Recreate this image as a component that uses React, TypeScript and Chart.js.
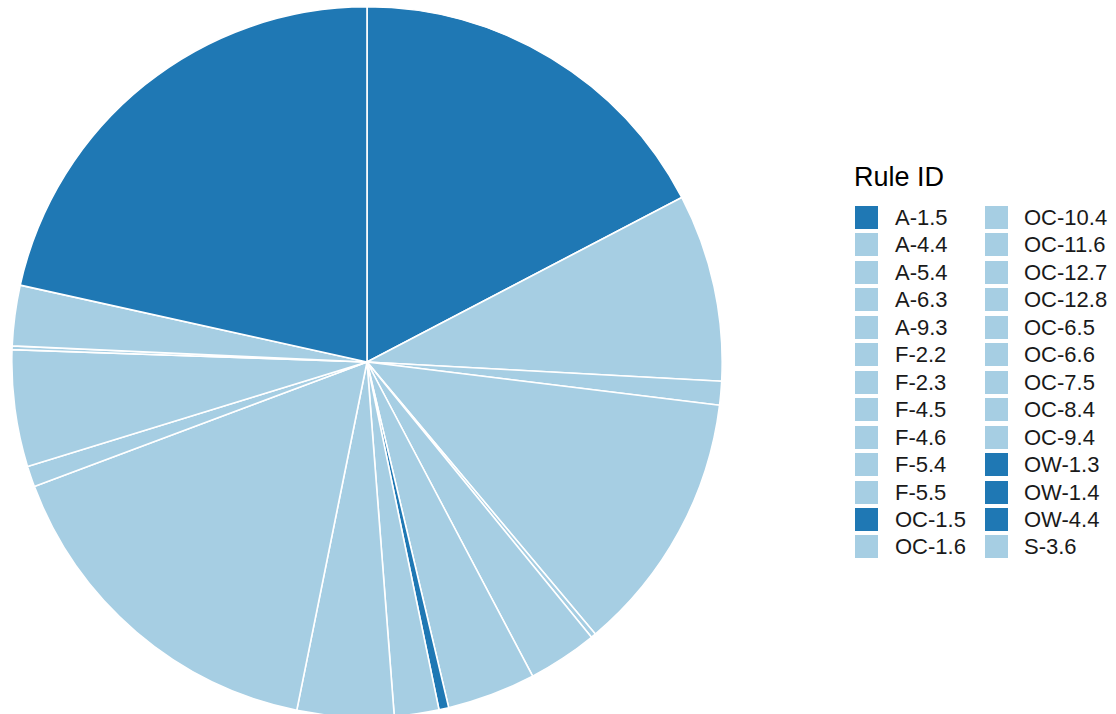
import React, { useEffect, useRef } from "react";
import { Chart, registerables } from "chart.js";

Chart.register(...registerables);

// Rule IDs in legend order (ggplot stacks them counter-clockwise from 12 o'clock)
const ruleIds = [
  "A-1.5", "A-4.4", "A-5.4", "A-6.3", "A-9.3", "F-2.2", "F-2.3", "F-4.5", "F-4.6",
  "F-5.4", "F-5.5", "OC-1.5", "OC-1.6", "OC-10.4", "OC-11.6", "OC-12.7", "OC-12.8",
  "OC-6.5", "OC-6.6", "OC-7.5", "OC-8.4", "OC-9.4", "OW-1.3", "OW-1.4", "OW-4.4", "S-3.6",
];
// Share of the pie (degrees)
const shares = [
  77.5, 9.9, 0.6, 19.1, 3.4, 58.1, 15.8, 7.3, 0, 0, 0, 1.6, 14.5, 11.4, 0.8, 43.0, 3.9,
  30.7, 0, 0, 0, 0, 62.4, 0, 0, 0,
];
// Rule IDs drawn in the dark colour
const darkIds = ["A-1.5", "OC-1.5", "OW-1.3", "OW-1.4", "OW-4.4"];
const DARK = "#1F78B4";
const LIGHT = "#A6CEE3";
const legendTitle = "Rule ID";

const colorOf = (id: string) => (darkIds.includes(id) ? DARK : LIGHT);

export default function App() {
  const ref = useRef<HTMLCanvasElement | null>(null);

  useEffect(() => {
    if (!ref.current) return;
    // Chart.js draws clockwise from the top; ggplot stacks counter-clockwise, so reverse
    const labels = [...ruleIds].reverse();
    const data = [...shares].reverse();
    const colors = labels.map(colorOf);
    const chart = new Chart(ref.current, {
      type: "pie",
      data: {
        labels,
        datasets: [
          {
            data,
            backgroundColor: colors,
            borderColor: "#ffffff",
            borderWidth: 1.6,
          },
        ],
      },
      options: {
        animation: false,
        responsive: false,
        events: [],
        layout: { padding: 0 },
        plugins: { legend: { display: false }, tooltip: { enabled: false } },
      },
    });
    return () => chart.destroy();
  }, []);

  const perCol = Math.ceil(ruleIds.length / 2);
  const font = '"Liberation Sans", Arial, Helvetica, sans-serif';

  return (
    <div
      style={{
        position: "fixed",
        left: 0,
        top: 0,
        width: 1116,
        height: 714,
        background: "#ffffff",
        overflow: "hidden",
        fontFamily: font,
      }}
    >
      <canvas
        ref={ref}
        width={712}
        height={712}
        style={{ position: "absolute", left: 11, top: 6, width: 712, height: 712 }}
      />
      <div
        style={{
          position: "absolute",
          left: 854,
          top: 162,
          fontSize: 27,
          lineHeight: "30px",
          color: "#000",
        }}
      >
        {legendTitle}
      </div>
      {ruleIds.map((id, i) => {
        const col = Math.floor(i / perCol);
        const row = i % perCol;
        const keyLeft = col === 0 ? 855 : 985;
        const textLeft = col === 0 ? 895 : 1024;
        const top = 206 + row * 27.45;
        return (
          <React.Fragment key={id}>
            <div
              style={{
                position: "absolute",
                left: keyLeft,
                top,
                width: 23,
                height: 23,
                background: colorOf(id),
              }}
            />
            <div
              style={{
                position: "absolute",
                left: textLeft,
                top: top - 2,
                height: 27,
                lineHeight: "27px",
                fontSize: 22,
                color: "#1a1a1a",
                whiteSpace: "nowrap",
              }}
            >
              {id}
            </div>
          </React.Fragment>
        );
      })}
    </div>
  );
}
